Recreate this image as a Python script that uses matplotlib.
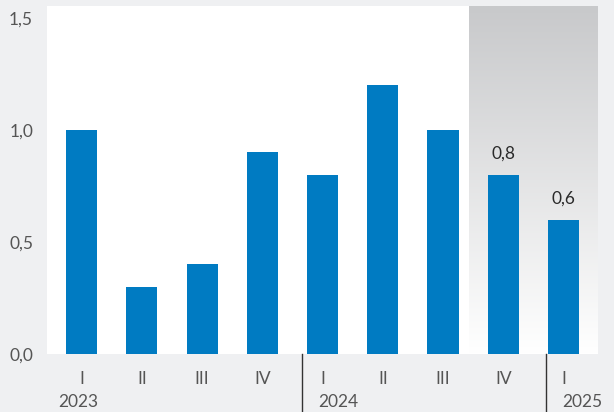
import numpy as np
import matplotlib.pyplot as plt
from matplotlib.colors import LinearSegmentedColormap

quarters = ["I", "II", "III", "IV", "I", "II", "III", "IV", "I"]
years = ["2023", "2024", "2025"]
values = [1.0, 0.3, 0.4, 0.9, 0.8, 1.2, 1.0, 0.8, 0.6]
labelled = [7, 8]  # forecast bars that carry a value label

bg = "#eff0f2"
blue = "#007bc2"
txt = "#555555"

plt.rcParams['font.family'] = ['Lato', 'DejaVu Sans']

fig = plt.figure(figsize=(6.14, 4.12), dpi=100, facecolor=bg)
ax = fig.add_axes([47 / 614, 1 - 354 / 412, 550 / 614, 348 / 412])
ax.set_facecolor("white")

x = np.arange(len(values))
ymax = 1.5 + 12 / 224
ax.set_xlim(-0.573, 8.556)
ax.set_ylim(0, ymax)

# shaded forecast area
cmap = LinearSegmentedColormap.from_list("fc", ["#ffffff", "#c8c9cb"])
grad = np.linspace(0, 1, 256).reshape(-1, 1)
ax.imshow(grad, cmap=cmap, origin="lower", aspect="auto",
          extent=[6.43, 8.556, 0, ymax], zorder=0)

ax.bar(x, values, width=0.515, color=blue, zorder=2)

for i in labelled:
    ax.text(x[i], values[i] + 0.06, f"{values[i]:.1f}".replace(".", ","),
            ha="center", va="bottom", fontsize=12.5, color="#2a2a2a", zorder=3)

for s in ax.spines.values():
    s.set_visible(False)

ax.set_yticks([0, 0.5, 1.0, 1.5])
ax.set_yticklabels(["0,0", "0,5", "1,0", "1,5"])
ax.tick_params(axis="y", length=0, pad=10, labelsize=12.5, labelcolor=txt)
ax.set_xticks([])

# quarter labels, year labels and year separators
for i, q in enumerate(quarters):
    ax.text(x[i], -0.11, q, ha="center", va="center", fontsize=12.5,
            color=txt, clip_on=False)
year_pos = [-0.39, 3.93, 7.98]
for yp, yr in zip(year_pos, years):
    ax.text(yp, -0.215, yr, ha="left", va="center", fontsize=12.5,
            color=txt, clip_on=False)
for sx in [3.66, 7.71]:
    ax.plot([sx, sx], [0, -0.26], color="#333333", lw=1, clip_on=False)

fig.savefig("out.png", dpi=100, facecolor=bg)
